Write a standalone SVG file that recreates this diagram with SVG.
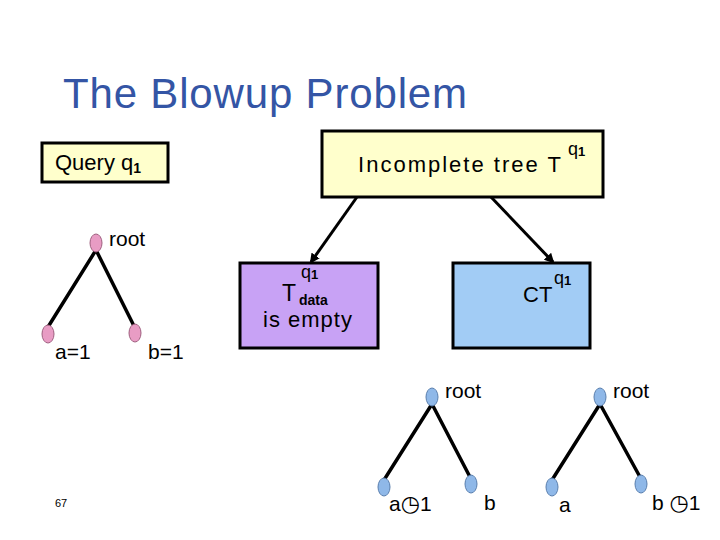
<svg xmlns="http://www.w3.org/2000/svg" width="720" height="540" viewBox="0 0 720 540">
<style>
text{font-family:"Liberation Sans","DejaVu Sans",sans-serif;fill:#000}
.box{stroke:#000;stroke-width:3}
.lbl{font-size:21px}
.sup{font-size:18px}
.sub{font-size:13px;font-weight:bold}
.clk{font-family:"DejaVu Sans",sans-serif;font-weight:bold;font-size:22px}
.edge{stroke:#000;stroke-width:3.5;fill:none}
.pink{fill:#e89cc4;stroke:#a06080;stroke-width:1}
.blue{fill:#8fb8e8;stroke:#5a7fae;stroke-width:1}
</style>
<defs>
<marker id="ah" markerWidth="10" markerHeight="10" refX="8" refY="5" orient="auto" markerUnits="userSpaceOnUse">
<path d="M0,0 L10,5 L0,10 Z" fill="#000"/>
</marker>
</defs>
<rect width="720" height="540" fill="#fff"/>
<text x="63" y="108" font-size="42" style="fill:#3455a5" textLength="404">The Blowup Problem</text>

<g id="query">
<rect class="box" x="42" y="143" width="126" height="39" fill="#ffffcc"/>
<text x="55" y="170" style="font-size:22px">Query q<tspan class="sub" dy="3" style="font-size:14px">1</tspan></text>
</g>

<g id="incomplete">
<rect class="box" x="322" y="131" width="281" height="66" fill="#ffffcc"/>
<text x="358" y="172" style="font-size:22px" textLength="203">Incomplete tree T</text>
<text class="sup" x="568" y="155">q<tspan class="sub" dy="1">1</tspan></text>
</g>

<g id="tdata">
<rect class="box" x="240" y="263" width="138" height="85" fill="#c8a2f5"/>
<text x="282" y="301" style="font-size:23px">T</text>
<text class="sup" x="301" y="278">q<tspan class="sub" dy="1">1</tspan></text>
<text class="sub" x="299" y="305" style="font-size:14px">data</text>
<text x="263" y="327" style="font-size:22px" textLength="89">is empty</text>
</g>

<g id="ct">
<rect class="box" x="453" y="263" width="137" height="85" fill="#a2ccf5"/>
<text x="523" y="302" style="font-size:22px">CT</text>
<text class="sup" x="554" y="284">q<tspan class="sub" dy="1">1</tspan></text>
</g>

<g id="connectors">
<line x1="357" y1="197" x2="311" y2="262" stroke="#000" stroke-width="3" marker-end="url(#ah)"/>
<line x1="491" y1="197" x2="553" y2="262" stroke="#000" stroke-width="3" marker-end="url(#ah)"/>
<path class="edge" d="M96,250 L48,327 M96,250 L134,326"/>
<path class="edge" d="M432,404 L384,480 M432,404 L470,477"/>
<path class="edge" d="M600,404 L552,480 M600,404 L640,477"/>
</g>

<g id="tree-left">
<ellipse class="pink" cx="96" cy="243" rx="6" ry="9"/>
<ellipse class="pink" cx="48" cy="334" rx="6" ry="9"/>
<ellipse class="pink" cx="135" cy="333" rx="6" ry="9"/>
<text class="lbl" x="109" y="246">root</text>
<text class="lbl" x="55" y="359">a=1</text>
<text class="lbl" x="148" y="359">b=1</text>
</g>

<g id="tree-mid">
<ellipse class="blue" cx="432" cy="397" rx="6" ry="9"/>
<ellipse class="blue" cx="384" cy="487" rx="6" ry="9"/>
<ellipse class="blue" cx="471" cy="484" rx="6" ry="9"/>
<text class="lbl" x="445" y="398">root</text>
<text class="lbl" x="389" y="511">a<tspan class="clk">◷</tspan>1</text>
<text class="lbl" x="484" y="510">b</text>
</g>

<g id="tree-right">
<ellipse class="blue" cx="600" cy="397" rx="6" ry="9"/>
<ellipse class="blue" cx="552" cy="487" rx="6" ry="9"/>
<ellipse class="blue" cx="641" cy="484" rx="6" ry="9"/>
<text class="lbl" x="613" y="398">root</text>
<text class="lbl" x="559" y="512">a</text>
<text class="lbl" x="652" y="510">b <tspan class="clk">◷</tspan>1</text>
</g>

<text x="55" y="507" font-size="11">67</text>
</svg>
